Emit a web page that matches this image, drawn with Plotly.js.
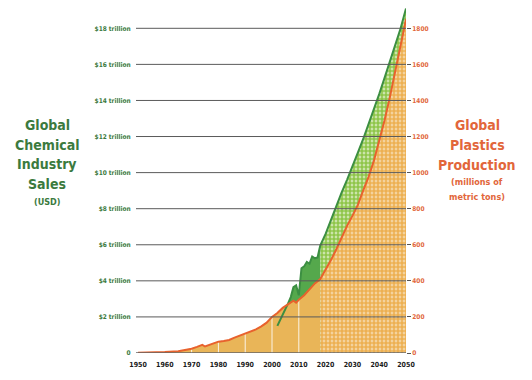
<!DOCTYPE html>
<html>
<head>
<meta charset="utf-8">
<script src="https://cdn.plot.ly/plotly-3.0.1.min.js"></script>
<style>html,body{margin:0;padding:0;background:#fff;}#chart{width:532px;height:380px;}</style>
</head>
<body>
<div id="chart"></div>
<script>
// ---- Data ----
// Global plastics production, historical (millions of metric tons)
const plasticsYears = [1950,1955,1960,1965,1970,1972,1974,1975,1976,1978,1980,1982,1984,1986,1988,1990,1992,1994,1996,1998,2000,2002,2004,2006,2008,2009,2010,2012,2014,2016,2018];
const plastics      = [2,3,5,10,24,34,45,36,42,55,63,66,72,85,96,106,118,131,148,168,200,222,250,268,290,279,295,320,352,386,410];
// Plastics projection (millions of metric tons)
const plasticsProjYears = [2018,2020,2022,2024,2026,2028,2030,2032,2034,2036,2038,2040,2042,2044,2046,2048,2050];
const plasticsProj      = [410,460,515,575,640,705,760,820,900,975,1065,1170,1290,1420,1560,1705,1850];
// Global chemical industry sales, historical (trillion USD)
const salesYears = [2002,2003,2004,2005,2006,2007,2008,2009,2010,2011,2012,2013,2014,2015,2016,2017,2018];
const sales      = [1.5,1.8,2.1,2.4,2.75,3.1,3.65,3.75,3.2,4.7,4.8,5.05,4.95,5.35,5.25,5.3,5.95];
// Sales projection (trillion USD)
const salesProjYears = [2018,2020,2022,2024,2026,2028,2030,2032,2034,2036,2038,2040,2042,2044,2046,2048,2050];
const salesProj      = [5.95,6.6,7.4,8.15,8.9,9.6,10.3,11.1,11.85,12.65,13.5,14.35,15.25,16.2,17.1,18.0,19.1];
// Axis ticks
const xTicks = [1950,1960,1970,1980,1990,2000,2010,2020,2030,2040,2050];
const leftTicks = [0,2,4,6,8,10,12,14,16,18];
const leftTickText = ['0','$2 trillion','$4 trillion','$6 trillion','$8 trillion','$10 trillion','$12 trillion','$14 trillion','$16 trillion','$18 trillion'];
const rightTicks = [0,200,400,600,800,1000,1200,1400,1600,1800];
const rightTickText = ['0','200','400','600','800','1000','1200','1400','1600','1800'];
const decadeMarks = [1970,1980,1990,2000,2010];

// The two vertical axes are aligned: 1800 Mt sits on $18 trillion.
const MT_PER_TRILLION = 100;
const toLeft = v => v / MT_PER_TRILLION;

const FONT = "'Liberation Sans Narrow', 'DejaVu Sans Condensed', 'Liberation Sans', Arial, sans-serif";
const GREEN_TXT = '#3B7A3E', ORANGE_TXT = '#E2663A';
const GREEN_LINE = '#3C8F42', ORANGE_LINE = '#E8622D';

const traces = [
  { // green projection band (hatched)
    x: salesProjYears, y: salesProj, type: 'scatter', mode: 'none', fill: 'tozeroy',
    fillcolor: '#A4D062',
    fillpattern: {shape: '.', bgcolor: '#E6F2D4', fgcolor: '#8FC64A', fgopacity: 1, size: 4, solidity: 0.75},
    hoverinfo: 'skip', showlegend: false
  },
  { // green historical band (solid)
    x: salesYears, y: sales, type: 'scatter', mode: 'none', fill: 'tozeroy',
    fillcolor: '#55A84C', hoverinfo: 'skip', showlegend: false
  },
  { // orange historical area (solid)
    x: plasticsYears, y: plastics.map(toLeft), type: 'scatter', mode: 'none', fill: 'tozeroy',
    fillcolor: '#E9B558', hoverinfo: 'skip', showlegend: false
  },
  { // orange projection area (hatched)
    x: plasticsProjYears, y: plasticsProj.map(toLeft), type: 'scatter', mode: 'none', fill: 'tozeroy',
    fillcolor: '#F0C47A',
    fillpattern: {shape: '.', bgcolor: '#F8E2BE', fgcolor: '#EDB052', fgopacity: 1, size: 4, solidity: 0.75},
    hoverinfo: 'skip', showlegend: false
  }
];
// white decade lines inside the solid area
decadeMarks.forEach(yr => {
  const v = plastics[plasticsYears.indexOf(yr)];
  traces.push({x: [yr, yr], y: [0, toLeft(v)], type: 'scatter', mode: 'lines',
    line: {color: 'rgba(255,255,255,0.85)', width: 1}, hoverinfo: 'skip', showlegend: false});
});
traces.push({ // green line
  x: salesYears.concat(salesProjYears.slice(1)), y: sales.concat(salesProj.slice(1)),
  type: 'scatter', mode: 'lines', line: {color: GREEN_LINE, width: 2}, hoverinfo: 'skip', showlegend: false
});
traces.push({ // orange line on the right axis (native units)
  x: plasticsYears.concat(plasticsProjYears.slice(1)), y: plastics.concat(plasticsProj.slice(1)),
  yaxis: 'y2', type: 'scatter', mode: 'lines', line: {color: ORANGE_LINE, width: 2},
  hoverinfo: 'skip', showlegend: false
});

const L = 136, R = 406, T = 5, B = 353;
const yTop = (B - T) / ((353 - 28.3) / 18);
const px = x => (x - L) / (R - L);
const py = y => (B - y) / (B - T);

const shapes = leftTicks.map(v => ({
  type: 'line', xref: 'paper', yref: 'y', x0: 0, x1: 1, y0: v, y1: v,
  line: {color: v === 0 ? '#666' : '#5a5a5a', width: v === 0 ? 1.5 : 1}, layer: 'above'
}));

function ann(text, x, y, size, color) {
  return {text: '<b>' + text + '</b>', xref: 'paper', yref: 'paper', x: px(x), y: py(y),
    xanchor: 'center', yanchor: 'middle', showarrow: false,
    font: {family: FONT, size: size, color: color}};
}
const annotations = [
  ann('Global', 47, 125, 14, GREEN_TXT),
  ann('Chemical', 47, 144.5, 14, GREEN_TXT),
  ann('Industry', 47, 164, 14, GREEN_TXT),
  ann('Sales', 47, 183.5, 14, GREEN_TXT),
  ann('(USD)', 47, 202, 9, GREEN_TXT),
  ann('Global', 477, 125, 14, ORANGE_TXT),
  ann('Plastics', 477, 145, 14, ORANGE_TXT),
  ann('Production', 477, 164.5, 14, ORANGE_TXT),
  ann('(millions of', 477, 182, 9, ORANGE_TXT),
  ann('metric tons)', 477, 197, 9, ORANGE_TXT)
];

const layout = {
  width: 532, height: 380,
  margin: {l: L, r: 532 - R, t: T, b: 380 - B, pad: 0},
  paper_bgcolor: '#fff', plot_bgcolor: '#fff',
  showlegend: false, hovermode: false,
  xaxis: {
    range: [1949.25, 2050], tickvals: xTicks, ticktext: xTicks.map(String),
    showgrid: false, zeroline: false, showline: false,
    ticks: 'outside', ticklen: 5, tickcolor: 'rgba(0,0,0,0)',
    tickfont: {family: FONT, size: 7, color: '#1a1a1a', weight: 'bold'}, fixedrange: true
  },
  yaxis: {
    range: [0, yTop], tickvals: leftTicks, ticktext: leftTickText,
    showgrid: false, zeroline: false, showline: false,
    ticks: 'outside', ticklen: 3, tickcolor: 'rgba(0,0,0,0)',
    tickfont: {family: FONT, size: 6.5, color: GREEN_TXT, weight: 'bold'}, fixedrange: true
  },
  yaxis2: {
    overlaying: 'y', side: 'right', range: [0, yTop * MT_PER_TRILLION],
    tickvals: rightTicks, ticktext: rightTickText,
    showgrid: false, zeroline: false, showline: false,
    ticks: 'outside', ticklen: 4, tickcolor: '#555', tickwidth: 1,
    tickfont: {family: FONT, size: 6.5, color: ORANGE_TXT, weight: 'bold'}, fixedrange: true
  },
  shapes: shapes,
  annotations: annotations
};

Plotly.newPlot('chart', traces, layout, {staticPlot: true, displayModeBar: false});
</script>
</body>
</html>
